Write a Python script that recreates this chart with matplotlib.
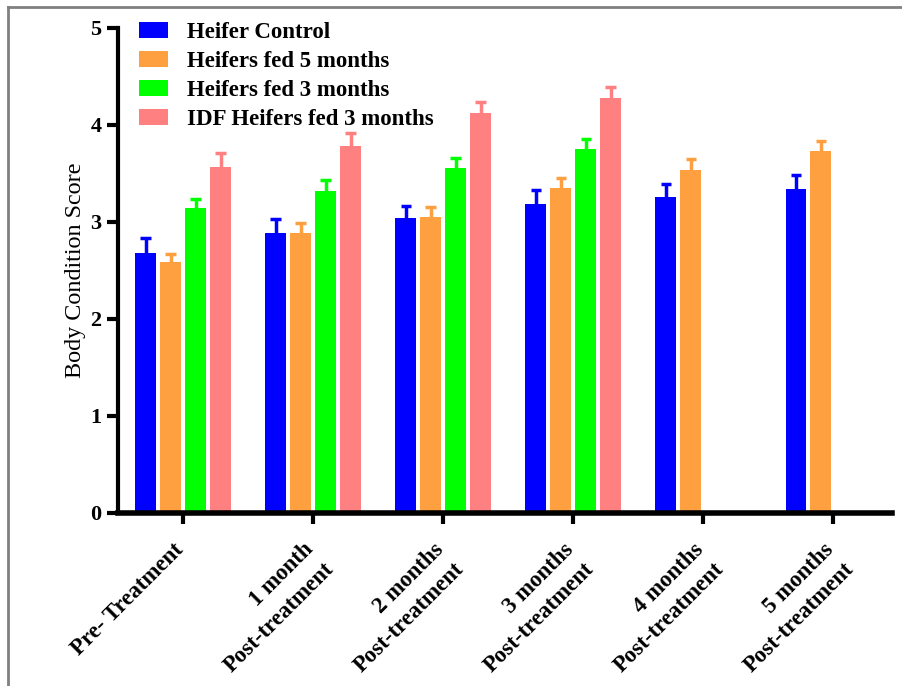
import matplotlib
matplotlib.use("Agg")
import matplotlib.pyplot as plt
from matplotlib.lines import Line2D
import numpy as np

plt.rcParams['font.family'] = ['Liberation Serif', 'DejaVu Serif']

categories = ["Pre- Treatment", "1 month\nPost-treatment", "2 months\nPost-treatment",
              "3 months\nPost-treatment", "4 months\nPost-treatment", "5 months\nPost-treatment"]
series = ["Heifer Control", "Heifers fed 5 months", "Heifers fed 3 months", "IDF Heifers fed 3 months"]

control = [2.68, 2.89, 3.04, 3.19, 3.26, 3.34]
control_err = [0.16, 0.14, 0.12, 0.14, 0.13, 0.14]
fed5 = [2.59, 2.89, 3.05, 3.35, 3.54, 3.73]
fed5_err = [0.08, 0.10, 0.10, 0.10, 0.11, 0.11]
fed3 = [3.14, 3.32, 3.56, 3.75, np.nan, np.nan]
fed3_err = [0.10, 0.11, 0.10, 0.11, np.nan, np.nan]
idf3 = [3.57, 3.78, 4.12, 4.28, np.nan, np.nan]
idf3_err = [0.14, 0.14, 0.12, 0.11, np.nan, np.nan]

colors = ["#0000FF", "#FFA040", "#00FF00", "#FF8080"]

fig = plt.figure(figsize=(9.03, 6.86), dpi=100)
ax = fig.add_axes([0.1307, 0.2522, 0.857, 0.7070])

x = np.arange(len(categories))
slot = 0.192
width = 0.16
cap = 0.04
data = [(control, control_err), (fed5, fed5_err), (fed3, fed3_err), (idf3, idf3_err)]
for i, (vals, errs) in enumerate(data):
    pos = x + (i - 1.5) * slot
    vals = np.array(vals)
    top = vals + np.array(errs)
    ax.bar(pos, vals, width, color=colors[i], label=series[i], zorder=2)
    # upper error bars only
    ax.vlines(pos, vals, top, colors=colors[i], lw=2.5, zorder=1)
    ax.hlines(top, pos - cap, pos + cap, colors=colors[i], lw=2.5, zorder=1)

ax.set_xlim(-0.5, 5.45)
ax.set_ylim(0, 5)
ax.set_yticks([0, 1, 2, 3, 4, 5])
ax.set_xticks(x)
ax.tick_params(axis='x', labelbottom=False)
# rotated category labels, nudged a little left of the ticks
for xi, lab in zip(x, categories):
    ax.annotate(lab, xy=(xi, 0), xycoords='data', xytext=(-10, -26),
                textcoords='offset pixels', rotation=45, ha='right', va='top',
                rotation_mode='anchor', multialignment='right',
                fontsize=16.5, fontweight='bold', linespacing=1.45,
                annotation_clip=False)
for lab in ax.get_yticklabels():
    lab.set_fontsize(16)
    lab.set_fontweight('bold')
ax.tick_params(axis='both', direction='out', length=8, width=3, color='black')
ax.tick_params(axis='y', pad=4)

ax.spines['top'].set_visible(False)
ax.spines['right'].set_visible(False)
ax.spines['left'].set_linewidth(3)
ax.spines['bottom'].set_linewidth(4)

ax.set_ylabel("Body Condition Score", fontsize=17.4, labelpad=3)

ax.legend(loc='upper left', bbox_to_anchor=(0.0, 1.055), frameon=False,
          prop={'weight': 'bold', 'size': 16.5}, handlelength=1.3,
          handleheight=0.7, labelspacing=0.35, handletextpad=0.8)

# image border (top and left)
fig.add_artist(Line2D([8 / 903, 1.0], [1 - 7 / 686, 1 - 7 / 686], color='#808080', lw=2, transform=fig.transFigure))
fig.add_artist(Line2D([8 / 903, 8 / 903], [0, 1 - 7 / 686], color='#808080', lw=2, transform=fig.transFigure))

fig.savefig("out.png", dpi=100)
